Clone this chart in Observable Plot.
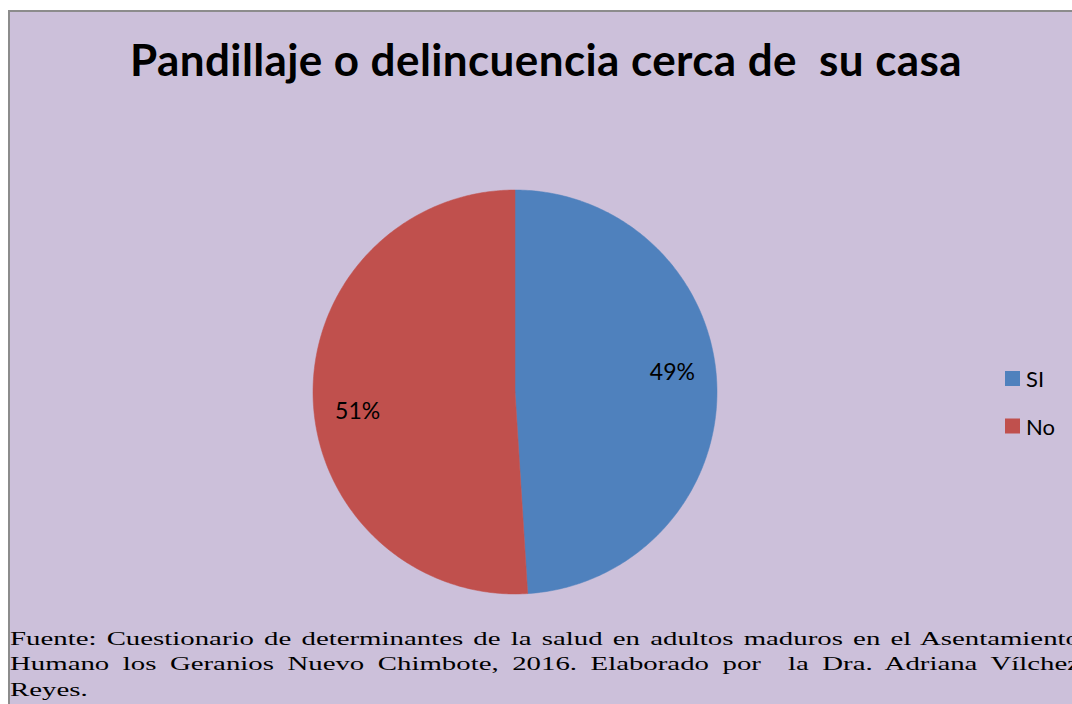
<!DOCTYPE html>
<html>
<head>
<meta charset="utf-8">
<script src="https://cdn.jsdelivr.net/npm/d3@7"></script>
<script src="https://cdn.jsdelivr.net/npm/@observablehq/plot@0.6"></script>
<style>
  html, body { margin: 0; padding: 0; background: #ffffff; width: 1072px; height: 704px; overflow: hidden; }
  #frame { position: absolute; left: 8px; top: 10px; width: 1100px; height: 720px; background: #CCC0DA;
           border-left: 2px solid #8c8c8c; border-top: 2px solid #8c8c8c; overflow: hidden; }
  #title { height: 120px; box-sizing: border-box; padding-top: 21px; width: 1072px; text-align: center;
           font-family: Lato, sans-serif; font-weight: bold; font-size: 44px; letter-spacing: 0.4px; color: #000; white-space: pre; line-height: normal; }
  #chart { height: 494px; }
  #chart svg { display: block; }
  #legend { position: absolute; left: 990px; top: 340px; }
  #footer { font-family: "Liberation Serif", "Times New Roman", serif; font-size: 19.5px; color: #000; }
  .fl { white-space: pre; line-height: 25px; height: 25px; }
  .fl span { display: inline-block; transform-origin: 0 0; }
</style>
</head>
<body>
<div id="frame">
  <div id="title"></div>
  <div id="chart"></div>
  <div id="footer"></div>
  <div id="legend"></div>
</div>
<script>
// ---- data ----
const titleText = "Pandillaje o delincuencia cerca de  su casa";
const categories = ["SI", "No"];
const values = [49, 51];
const valueLabels = ["49%", "51%"];
const colors = ["#4F81BD", "#C0504D"];
const footerLines = [
  "Fuente: Cuestionario de determinantes de la salud en adultos maduros en el Asentamiento",
  "Humano los Geranios Nuevo Chimbote, 2016. Elaborado por  la Dra. Adriana Vílchez",
  "Reyes."
];

// ---- title ----
document.getElementById("title").textContent = titleText;

// ---- pie geometry from the data ----
const arcs = d3.pie().sort(null).value(d => d)(values);
const pts = [];
arcs.forEach((a, i) => {
  const cat = categories[i];
  pts.push({cat, x: 0, y: 0});
  const n = 240;
  for (let k = 0; k <= n; k++) {
    const t = a.startAngle + (a.endAngle - a.startAngle) * k / n;
    pts.push({cat, x: Math.sin(t), y: Math.cos(t)});
  }
  pts.push({cat, x: 0, y: 0});
});
const labelRadius = 0.785;
const labelRotate = -5.2 * Math.PI / 180;
const labelData = arcs.map((a, i) => {
  const m = (a.startAngle + a.endAngle) / 2 + labelRotate;
  return {cat: categories[i], text: valueLabels[i], x: labelRadius * Math.sin(m), y: labelRadius * Math.cos(m)};
});

const R = 202, cx = 504.5, cy = 259.5;
const chart = Plot.plot({
  width: 1062,
  height: 494,
  margin: 0,
  x: {domain: [-1, 1], range: [cx - R, cx + R], axis: null},
  y: {domain: [-1, 1], range: [cy + R, cy - R], axis: null},
  color: {domain: categories, range: colors},
  style: {background: "transparent", overflow: "visible"},
  marks: [
    Plot.line(pts, {x: "x", y: "y", z: "cat", fill: "cat", stroke: "cat", strokeWidth: 0.5, curve: "linear"}),
    Plot.text(labelData, {x: "x", y: "y", text: "text", fill: "#000", fontSize: 23, fontFamily: "Lato, sans-serif"})
  ]
});
document.getElementById("chart").appendChild(chart);

// ---- legend ----
const lg = d3.select("#legend").append("svg").attr("width", 80).attr("height", 110);
const items = lg.selectAll("g").data(categories).join("g")
  .attr("transform", (d, i) => `translate(0, ${i * 47.5})`);
items.append("rect").attr("x", 5).attr("y", 19).attr("width", 15).attr("height", 15)
  .attr("fill", (d, i) => colors[i]);
items.append("text").attr("x", 26).attr("y", 35).text(d => d)
  .attr("font-family", "Lato, sans-serif").attr("font-size", 22).attr("fill", "#000");

// ---- footer (wide, justified lines running past the right edge like the original) ----
const footer = document.getElementById("footer");
const target = 1070;       // justified line width, px on screen
const gapExtra = 3;        // extra px per space on the first line
const spans = footerLines.map((line, i) => {
  const div = document.createElement("div");
  div.className = "fl";
  const span = document.createElement("span");
  span.textContent = line;
  div.appendChild(span);
  footer.appendChild(div);
  if (i === 2) div.style.marginTop = "1px";
  return span;
});
const nSp = s => (s.match(/ /g) || []).length;
const w0 = spans[0].getBoundingClientRect().width;
const sx = (target - gapExtra * nSp(footerLines[0])) / w0;
spans.forEach((span, i) => {
  const line = footerLines[i];
  if (i < 2) {
    const w = span.getBoundingClientRect().width;
    span.style.wordSpacing = ((target / sx - w) / nSp(line)) + "px";
  }
  span.style.transform = `scaleX(${sx})`;
});
</script>
</body>
</html>
